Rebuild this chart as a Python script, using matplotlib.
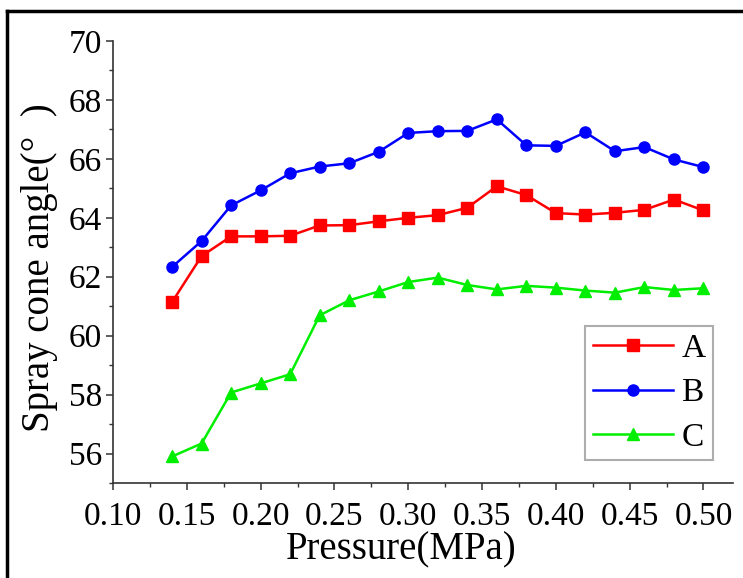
import matplotlib
matplotlib.use('Agg')
import matplotlib.pyplot as plt
from matplotlib.lines import Line2D
from matplotlib.ticker import MultipleLocator

plt.rcParams['font.family'] = ['Liberation Serif', 'DejaVu Serif']

# 數據
pressure = [0.14, 0.16, 0.18, 0.20, 0.22, 0.24, 0.26, 0.28, 0.30, 0.32,
            0.34, 0.36, 0.38, 0.40, 0.42, 0.44, 0.46, 0.48, 0.50]
angle_a = [61.14, 62.70, 63.37, 63.37, 63.39, 63.74, 63.75, 63.88, 64.00, 64.09,
           64.34, 65.07, 64.77, 64.16, 64.11, 64.17, 64.27, 64.62, 64.25]
angle_b = [62.33, 63.21, 64.42, 64.93, 65.51, 65.74, 65.85, 66.24, 66.88, 66.94,
           66.95, 67.34, 66.46, 66.44, 66.90, 66.26, 66.40, 65.98, 65.72]
angle_c = [55.90, 56.34, 58.07, 58.38, 58.69, 60.69, 61.20, 61.50, 61.82, 61.97,
           61.72, 61.57, 61.69, 61.63, 61.53, 61.46, 61.65, 61.55, 61.61]
labels = ['A', 'B', 'C']
xticks = [0.10, 0.15, 0.20, 0.25, 0.30, 0.35, 0.40, 0.45, 0.50]
yticks = [56, 58, 60, 62, 64, 66, 68, 70]

fig = plt.figure(figsize=(7.43, 5.78), dpi=100)
ax = fig.add_axes([113 / 743, 1 - 483 / 578, 620 / 743, 442 / 578])

series = [(angle_a, '#ff0000', 's'), (angle_b, '#0000ff', 'o'), (angle_c, '#00ee00', '^')]
for (vals, color, marker), lab in zip(series, labels):
    ax.plot(pressure, vals, color=color, marker=marker, markersize=8,
            linewidth=1.8, label=lab)

ax.set_xlim(0.10, 0.52)
ax.set_ylim(55.0, 70.0)
ax.set_xticks(xticks)
ax.set_xticklabels([f'{v:.2f}' for v in xticks])
ax.set_yticks(yticks)
ax.xaxis.set_minor_locator(MultipleLocator(0.025))
ax.yaxis.set_minor_locator(MultipleLocator(1))

for side in ['top', 'right']:
    ax.spines[side].set_visible(False)
for side in ['left', 'bottom']:
    ax.spines[side].set_color('#333333')
    ax.spines[side].set_linewidth(1.2)
ax.tick_params(which='major', direction='out', length=5, width=1.1,
               color='#333333', labelsize=24, pad=3)
ax.tick_params(axis='x', which='major', pad=8)
ax.tick_params(which='minor', direction='out', length=3, width=1.0, color='#333333')

ax.set_xlabel('Pressure(MPa)', fontsize=28)
ax.set_ylabel('Spray cone angle(°  )', fontsize=28)
ax.xaxis.set_label_coords((401 - 113) / 620, -(550 - 483) / 442, transform=ax.transAxes)
ax.xaxis.label.set_va('center')
ax.yaxis.set_label_coords(-(113 - 40) / 620, (483 - 268) / 442, transform=ax.transAxes)
ax.yaxis.label.set_va('center')

leg = ax.legend(loc='lower right', bbox_to_anchor=((713 - 113) / 620, (483 - 460) / 442),
                fontsize=24, frameon=True, fancybox=False, handlelength=2.4,
                labelspacing=0.42, borderpad=0.22, handletextpad=0.27,
                borderaxespad=0)
leg.get_frame().set_edgecolor('#999999')
leg.get_frame().set_linewidth(1.5)

# 外框
fig.add_artist(Line2D([7 / 743, 1.0], [1 - 11 / 578, 1 - 11 / 578],
                      transform=fig.transFigure, color='black', linewidth=2.5))
fig.add_artist(Line2D([7 / 743, 7 / 743], [0.0, 1 - 11 / 578],
                      transform=fig.transFigure, color='black', linewidth=2.5))

fig.savefig('out.png', dpi=100, facecolor='white')
plt.close(fig)
